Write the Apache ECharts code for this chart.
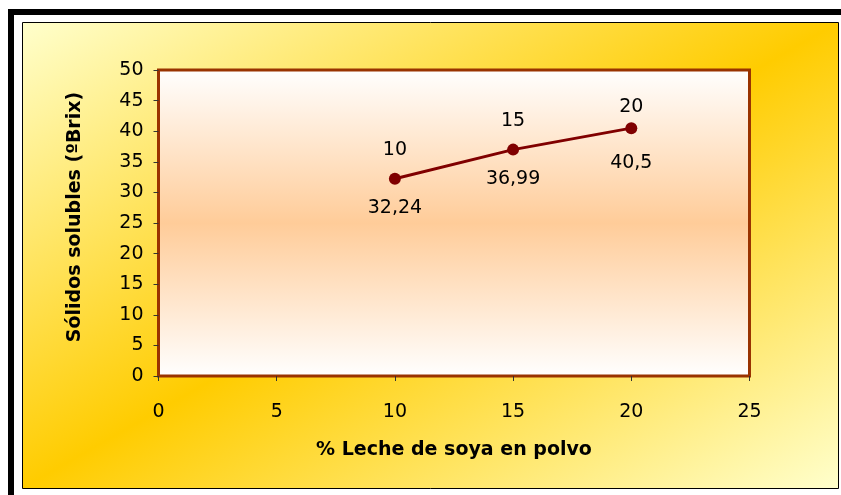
<!DOCTYPE html>
<html>
<head>
<meta charset="utf-8">
<script src="https://cdn.jsdelivr.net/npm/echarts@6/dist/echarts.min.js"></script>
<style>
  html, body { margin: 0; padding: 0; background: #ffffff; }
  #chart { width: 841px; height: 495px; }
</style>
</head>
<body>
<div id="chart"></div>
<script>
// % powdered soy milk (x) and soluble solids in ºBrix (y)
const leche = [10, 15, 20];
const solidos = [32.24, 36.99, 40.5];

// axis ranges and tick step
const xRange = [0, 25];
const xStep = 5;
const yRange = [0, 50];
const yStep = 5;

const xTitle = '% Leche de soya en polvo';
const yTitle = 'Sólidos solubles (ºBrix)';

// label spacing per point (above / below the marker)
const labelGapAbove = [13, 13, 6];
const labelGapBelow = [14, 14, 19];

const FONT = 'DejaVu Sans';
const fmtComma = v => String(v).replace('.', ',');

const chart = echarts.init(document.getElementById('chart'), null, { renderer: 'canvas' });

const frameFill = new echarts.graphic.LinearGradient(229.6, -96.5, 631.4, 607.0, [
  { offset: 0, color: '#FFFFCC' },
  { offset: 0.5, color: '#FFCC00' },
  { offset: 1, color: '#FFFFCC' }
], true);

const labelText = { fontFamily: FONT, fontSize: 19, color: '#000000', opacity: 1 };

const option = {
  animation: false,
  backgroundColor: '#ffffff',
  graphic: [
    { type: 'rect', z: -30, silent: true,
      shape: { x: 8, y: 9, width: 840, height: 490 },
      style: { fill: '#000000' } },
    { type: 'rect', z: -29, silent: true,
      shape: { x: 14, y: 15, width: 840, height: 490 },
      style: { fill: '#ffffff' } },
    { type: 'rect', z: -28, silent: true,
      shape: { x: 22.5, y: 22.5, width: 816, height: 466 },
      style: { fill: frameFill, stroke: '#000000', lineWidth: 1 } }
  ],
  grid: {
    left: 158.5, top: 70, width: 591, height: 306,
    show: true,
    borderColor: '#993300',
    borderWidth: 3,
    backgroundColor: new echarts.graphic.LinearGradient(0, 0, 0, 1, [
      { offset: 0, color: '#FFFFFF' },
      { offset: 0.5, color: '#FFCC99' },
      { offset: 1, color: '#FFFFFF' }
    ])
  },
  xAxis: {
    type: 'value',
    min: xRange[0], max: xRange[1], interval: xStep,
    name: xTitle,
    nameLocation: 'middle',
    nameGap: 65,
    nameTextStyle: { fontFamily: FONT, fontSize: 19, fontWeight: 'bold', color: '#000' },
    axisLine: { show: false },
    axisTick: { show: true, length: 5, inside: false, lineStyle: { color: '#333', width: 1 } },
    axisLabel: { margin: 27, fontFamily: FONT, fontSize: 19, color: '#000' },
    splitLine: { show: false }
  },
  yAxis: {
    type: 'value',
    min: yRange[0], max: yRange[1], interval: yStep,
    name: yTitle,
    nameLocation: 'middle',
    nameGap: 74,
    nameTextStyle: { fontFamily: FONT, fontSize: 19, fontWeight: 'bold', color: '#000', padding: [0, 0, 0, 12] },
    axisLine: { show: false },
    axisTick: { show: true, length: 5, inside: false, lineStyle: { color: '#333', width: 1 } },
    axisLabel: { margin: 15, fontFamily: FONT, fontSize: 19, color: '#000' },
    splitLine: { show: false }
  },
  series: [
    {
      // invisible carrier for the x-value labels above each point
      type: 'line',
      z: 2,
      silent: true,
      data: leche.map((x, i) => ({
        value: [x, solidos[i]],
        label: { distance: labelGapAbove[i] }
      })),
      symbol: 'circle',
      symbolSize: 12,
      lineStyle: { width: 0, color: 'rgba(0,0,0,0)' },
      itemStyle: { color: 'rgba(0,0,0,0)', borderWidth: 0 },
      label: Object.assign({
        show: true,
        position: 'top',
        formatter: p => String(p.value[0])
      }, labelText)
    },
    {
      type: 'line',
      z: 3,
      data: leche.map((x, i) => ({
        value: [x, solidos[i]],
        label: { distance: labelGapBelow[i] }
      })),
      symbol: 'circle',
      symbolSize: 12,
      lineStyle: { color: '#800000', width: 3 },
      itemStyle: { color: '#800000' },
      label: Object.assign({
        show: true,
        position: 'bottom',
        formatter: p => fmtComma(p.value[1])
      }, labelText)
    }
  ]
};

chart.setOption(option);
</script>
</body>
</html>
